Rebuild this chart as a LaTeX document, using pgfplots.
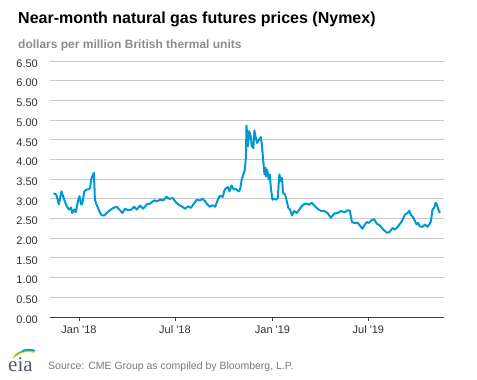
\documentclass[border=0pt]{standalone}
\usepackage{fontspec}
\setmainfont{Liberation Sans}
\newfontfamily\seriffont{Liberation Serif}
\usepackage{pgfplots}
\usepackage{pgfplotstable}
\pgfplotsset{compat=1.18}
\definecolor{eiablue}{RGB}{0,152,212}
\definecolor{gridgray}{RGB}{200,200,200}
\definecolor{ticktext}{RGB}{51,51,51}
\definecolor{subgray}{RGB}{140,140,140}
\definecolor{srcgray}{RGB}{120,120,120}
\definecolor{logogray}{RGB}{80,90,100}
\definecolor{logoyellow}{RGB}{245,200,20}
\definecolor{logogreen}{RGB}{110,185,60}

% x = days since 1 Jan 2018, y = dollars per MMBtu
\pgfplotstableread{
x y
-48 3.14
-43 3.11
-38 2.86
-33 3.19
-28 2.98
-23 2.81
-19 2.73
-15 2.78
-13 2.64
-9 2.73
-6 2.66
-2 2.94
1 3.07
4 2.86
6 2.86
10 3.19
15 3.24
18 3.24
21 3.28
23 3.49
25 3.57
28 3.66
29 3.36
30 2.98
33 2.86
36 2.77
40 2.64
43 2.58
48 2.58
52 2.64
58 2.71
65 2.77
71 2.80
76 2.73
82 2.64
87 2.75
93 2.71
99 2.73
104 2.80
109 2.73
115 2.83
121 2.75
128 2.86
134 2.88
142 2.96
148 2.94
153 2.98
159 2.96
165 3.05
170 3.00
177 3.02
183 2.91
187 2.86
195 2.80
200 2.75
206 2.81
211 2.77
218 2.90
222 2.98
228 2.96
233 3.00
238 2.94
242 2.86
247 2.80
252 2.84
257 2.80
262 2.98
266 3.08
271 3.05
275 3.24
281 3.30
284 3.19
288 3.34
292 3.24
296 3.25
301 3.19
304 3.24
307 3.49
310 3.62
313 3.74
315 4.08
316 4.86
319 4.34
321 4.72
324 4.59
326 4.34
329 4.29
331 4.74
333 4.59
336 4.42
340 4.51
343 4.57
345 4.38
348 3.91
350 3.62
352 3.79
353 3.57
355 3.74
358 3.49
360 3.62
362 3.28
365 2.98
368 3.00
372 2.98
375 3.02
378 3.62
381 3.45
383 3.53
385 3.15
389 3.11
392 2.94
395 2.77
398 2.73
402 2.58
406 2.69
411 2.64
416 2.73
420 2.81
425 2.87
430 2.88
434 2.85
439 2.90
444 2.83
450 2.75
457 2.69
463 2.69
469 2.64
475 2.52
482 2.63
488 2.64
494 2.69
501 2.66
507 2.71
511 2.70
515 2.41
519 2.39
526 2.39
530 2.32
535 2.24
538 2.32
543 2.41
547 2.39
552 2.46
557 2.48
562 2.37
568 2.32
574 2.22
581 2.14
585 2.15
592 2.26
596 2.22
602 2.30
609 2.43
615 2.60
620 2.64
623 2.70
626 2.60
631 2.52
634 2.43
637 2.35
640 2.39
643 2.30
648 2.29
653 2.35
657 2.29
661 2.35
664 2.43
667 2.73
670 2.77
673 2.90
675 2.86
678 2.73
681 2.64
}\gasdata

\begin{document}
\begin{tikzpicture}[x=1bp,y=1bp]
\path[use as bounding box] (0,0) rectangle (477,379);

\node[anchor=base west, inner sep=0pt] at (18,356)
  {\fontsize{16bp}{19bp}\selectfont\bfseries Near-month natural gas futures prices (Nymex)};
\node[anchor=base west, inner sep=0pt, text=subgray] at (18,330.4)
  {\fontsize{12bp}{14bp}\selectfont\bfseries dollars per million British thermal units};

\begin{axis}[
  at={(50bp,62bp)}, anchor=south west,
  scale only axis, width=394bp, height=256bp,
  xmin=-54.7, xmax=688.7, ymin=0, ymax=6.5,
  axis x line*=bottom, axis y line*=left,
  x axis line style={draw=black!75, line width=1bp},
  y axis line style={draw=none},
  ytick={0,0.5,1,1.5,2,2.5,3,3.5,4,4.5,5,5.5,6,6.5},
  xtick={0,181,365,546},
  xticklabels={Jan \textquotesingle18, Jul \textquotesingle18, Jan \textquotesingle19, Jul \textquotesingle19},
  ymajorgrids,
  grid style={draw=gridgray, line width=1bp},
  tick align=outside,
  major tick length=4bp,
  xtick style={draw=black!75, line width=0.8bp},
  ytick style={draw=none},
  /pgf/number format/assume math mode=true,
  yticklabel style={/pgf/number format/.cd, fixed, fixed zerofill, precision=2, /tikz/.cd,
    inner sep=0pt, anchor=east, xshift=-8bp, yshift=-2.5bp,
    font=\fontsize{11bp}{13bp}\selectfont, text=ticktext},
  xticklabel style={inner sep=0pt, anchor=base, yshift=-12bp,
    font=\fontsize{11bp}{13bp}\selectfont, text=ticktext},
  clip=false,
]
\addplot[eiablue, line width=2bp, line join=round] table[x=x, y=y] {\gasdata};
\end{axis}

% source line and logo
\node[anchor=base west, inner sep=0pt, text=srcgray] at (48,9.7)
  {\fontsize{10.5bp}{12bp}\selectfont Source: CME Group as compiled by Bloomberg, L.P.};
\node[anchor=base west, inner sep=0pt, text=logogray] at (8,7.3)
  {\fontsize{21bp}{21bp}\selectfont\seriffont eia};
\draw[logoyellow, line width=1.6bp] (13,21) .. controls (18,27) and (26,29) .. (34,27);
\draw[logogreen, line width=1.4bp] (15,23.5) .. controls (20,28) and (27,29.5) .. (34,28.5);
\draw[eiablue, line width=1.4bp] (22,28) .. controls (27,30) and (32,30) .. (35,28);
\end{tikzpicture}
\end{document}
